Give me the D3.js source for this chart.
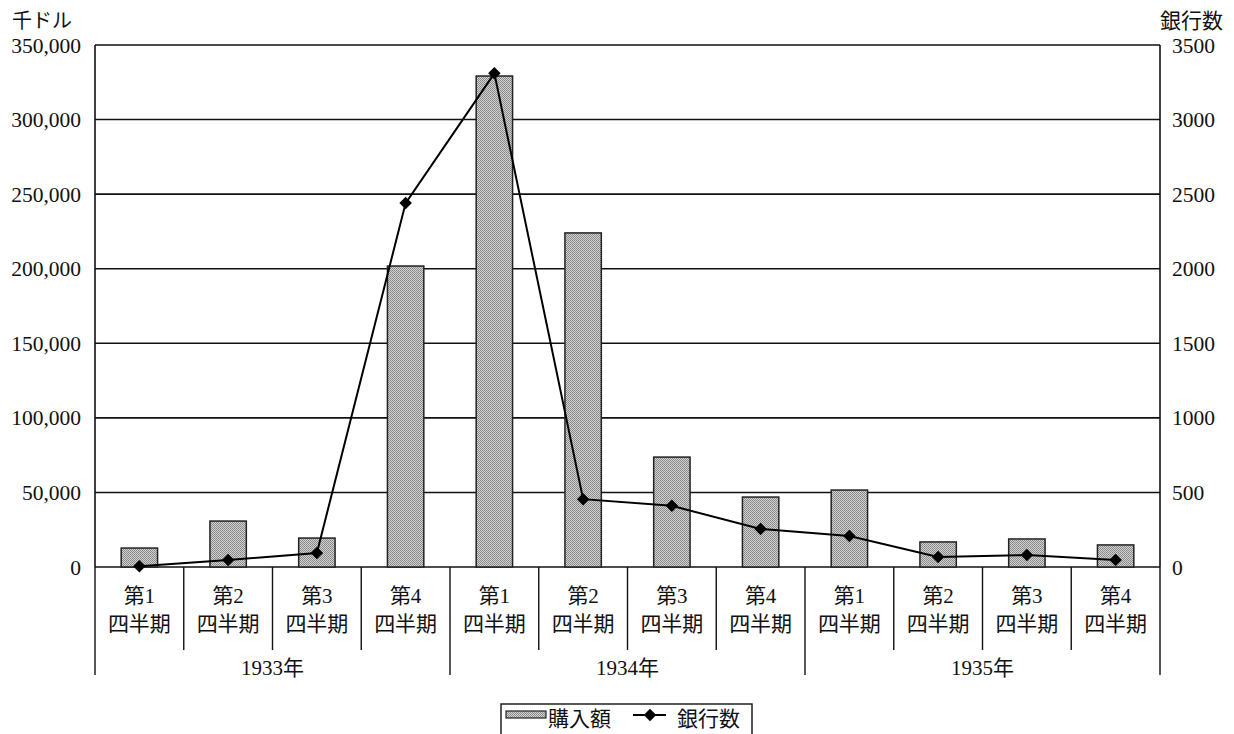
<!DOCTYPE html>
<html>
<head>
<meta charset="utf-8">
<script src="https://cdn.jsdelivr.net/npm/d3@7"></script>
<style>
  html, body { margin: 0; padding: 0; background: #fff; }
  svg { display: block; }
  text { font-family: "Liberation Serif", "Noto Sans CJK JP", serif; fill: #111; }
</style>
</head>
<body>
<svg id="chart" width="1234" height="734"></svg>
<script>
// Quarterly data, 1933–1935
const quarters = ["第1", "第2", "第3", "第4", "第1", "第2", "第3", "第4", "第1", "第2", "第3", "第4"];
const years = ["1933年", "1934年", "1935年"];
// 購入額 (千ドル)
const purchases = [12700, 30800, 19400, 201800, 329200, 224000, 73700, 46900, 51600, 16800, 18800, 14800];
// 銀行数
const banks = [5, 47, 94, 2440, 3310, 455, 410, 255, 208, 67, 80, 47];
const leftTicks = [0, 50000, 100000, 150000, 200000, 250000, 300000, 350000];
const rightTicks = [0, 500, 1000, 1500, 2000, 2500, 3000, 3500];

const svg = d3.select("#chart");
const m = { left: 95, right: 1160, top: 45, bottom: 567 };

const x = d3.scaleBand().domain(d3.range(quarters.length)).range([m.left, m.right]).padding(0);
const yL = d3.scaleLinear().domain([0, 350000]).range([m.bottom, m.top]);
const yR = d3.scaleLinear().domain([0, 3500]).range([m.bottom, m.top]);

// stippled grey fill for the bars (fine checkerboard)
const defs = svg.append("defs");
const pat = defs.append("pattern").attr("id", "stipple")
  .attr("patternUnits", "userSpaceOnUse").attr("width", 2).attr("height", 2);
pat.append("rect").attr("width", 2).attr("height", 2).attr("fill", "#d2d2d2");
pat.append("rect").attr("x", 0).attr("y", 0).attr("width", 1).attr("height", 1).attr("fill", "#858585");
pat.append("rect").attr("x", 1).attr("y", 1).attr("width", 1).attr("height", 1).attr("fill", "#8f8f8f");

// gridlines
svg.append("g").selectAll("line").data(leftTicks).join("line")
  .attr("x1", m.left).attr("x2", m.right)
  .attr("y1", d => yL(d)).attr("y2", d => yL(d))
  .attr("stroke", "#111").attr("stroke-width", 1.6);

// left and right axis lines
svg.append("line").attr("x1", m.left).attr("x2", m.left).attr("y1", m.top).attr("y2", m.bottom)
  .attr("stroke", "#111").attr("stroke-width", 1.6);
svg.append("line").attr("x1", m.right).attr("x2", m.right).attr("y1", m.top).attr("y2", m.bottom)
  .attr("stroke", "#111").attr("stroke-width", 1.6);

// left tick labels
const fmt = d3.format(",");
svg.append("g").selectAll("text").data(leftTicks).join("text")
  .attr("x", 81).attr("y", d => yL(d)).attr("dy", "0.35em")
  .attr("text-anchor", "end").attr("font-size", 21.5).text(d => fmt(d));
// right tick labels
svg.append("g").selectAll("text").data(rightTicks).join("text")
  .attr("x", 1172).attr("y", d => yR(d)).attr("dy", "0.35em")
  .attr("text-anchor", "start").attr("font-size", 21.5).text(d => d);

// axis titles
svg.append("text").attr("x", 12).attr("y", 28).attr("font-size", 20)
  .attr("font-family", "Noto Sans CJK JP").text("千ドル");
svg.append("text").attr("x", 1160).attr("y", 28).attr("font-size", 21)
  .attr("font-family", "Noto Sans CJK JP").text("銀行数");

// bars
const bw = x.bandwidth() * 0.41;
svg.append("g").selectAll("rect").data(purchases).join("rect")
  .attr("x", (d, i) => x(i) + x.bandwidth() / 2 - bw / 2)
  .attr("y", d => yL(d))
  .attr("width", bw)
  .attr("height", d => yL(0) - yL(d))
  .attr("fill", "url(#stipple)")
  .attr("stroke", "#222").attr("stroke-width", 1.5);

// bank count line
const line = d3.line().x((d, i) => x(i) + x.bandwidth() / 2).y(d => yR(d));
svg.append("path").datum(banks).attr("d", line)
  .attr("fill", "none").attr("stroke", "#000").attr("stroke-width", 2);
const diamond = d3.symbol().type(d3.symbolDiamond2).size(100);
svg.append("g").selectAll("path").data(banks).join("path")
  .attr("transform", (d, i) => `translate(${x(i) + x.bandwidth() / 2},${yR(d)})`)
  .attr("d", diamond).attr("fill", "#000");

// category dividers
const boundaries = d3.range(quarters.length + 1);
svg.append("g").selectAll("line").data(boundaries).join("line")
  .attr("x1", i => i === quarters.length ? m.right : x(i))
  .attr("x2", i => i === quarters.length ? m.right : x(i))
  .attr("y1", m.bottom)
  .attr("y2", i => i % 4 === 0 ? 675 : 650)
  .attr("stroke", "#111").attr("stroke-width", 1.4);

// quarter labels
const ql = svg.append("g");
ql.selectAll("text.q").data(quarters).join("text").attr("class", "q")
  .attr("x", (d, i) => x(i) + x.bandwidth() / 2).attr("y", 603)
  .attr("text-anchor", "middle").attr("font-size", 21).text(d => d);
ql.selectAll("text.p").data(quarters).join("text").attr("class", "p")
  .attr("x", (d, i) => x(i) + x.bandwidth() / 2).attr("y", 631)
  .attr("text-anchor", "middle").attr("font-size", 21).text("四半期");

// year labels
svg.append("g").selectAll("text").data(years).join("text")
  .attr("x", (d, i) => (x(i * 4) + (i === 2 ? m.right : x(i * 4 + 4))) / 2)
  .attr("y", 675).attr("text-anchor", "middle").attr("font-size", 21).text(d => d);

// legend
const lg = svg.append("g");
lg.append("rect").attr("x", 501).attr("y", 704).attr("width", 251).attr("height", 36)
  .attr("fill", "#fff").attr("stroke", "#111").attr("stroke-width", 1.4);
lg.append("rect").attr("x", 506).attr("y", 711).attr("width", 40).attr("height", 7)
  .attr("fill", "url(#stipple)").attr("stroke", "#222").attr("stroke-width", 1.2);
lg.append("text").attr("x", 548).attr("y", 726).attr("font-size", 21)
  .attr("font-family", "Noto Sans CJK JP").text("購入額");
lg.append("line").attr("x1", 633).attr("x2", 666).attr("y1", 715).attr("y2", 715)
  .attr("stroke", "#000").attr("stroke-width", 2);
lg.append("path").attr("transform", "translate(650,715)").attr("d", diamond).attr("fill", "#000");
lg.append("text").attr("x", 677).attr("y", 726).attr("font-size", 21)
  .attr("font-family", "Noto Sans CJK JP").text("銀行数");
</script>
</body>
</html>
